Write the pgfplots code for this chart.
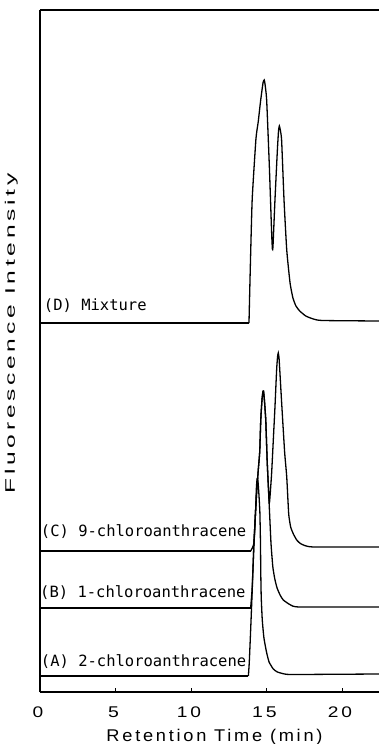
\documentclass[border=0pt]{standalone}
\usepackage{fontspec}
\setmainfont{Liberation Sans}
\newfontfamily\lblfont{DejaVu Sans Mono}
\newfontfamily\axfont[LetterSpace=15]{Liberation Sans}
\usepackage{graphicx}
\usepackage{pgfplots}
\pgfplotsset{compat=1.18}
\newcommand{\tk}[1]{\resizebox{!}{10.7pt}{\scalebox{1.25}[1]{\axfont #1}}}
\pgfplotsset{
  base/.style={black, line width=1.3pt, no marks, sharp plot},
  curve/.style={black, line width=1.3pt, no marks, smooth, tension=0.3},
}
\begin{document}
\begin{tikzpicture}
\begin{axis}[
  name=ax,
  scale only axis, width=339pt, height=682pt,
  xmin=0, xmax=22.45, ymin=0, ymax=682,
  axis x line=box, axis y line=left,
  axis line style={-, line width=1.2pt, black},
  xtick={0,5,10,15,20},
  xticklabels={\tk{0},\tk{5},\tk{10},\tk{15},\tk{20}},
  xtick pos=left, ytick=\empty,
  tick align=inside, major tick length=4pt,
  tick style={line width=1pt, black},
  xticklabel style={anchor=north, inner sep=0pt, yshift=-15pt, xshift=-2pt},
  xlabel={\resizebox{216pt}{12.3pt}{\axfont Retention Time (min)}},
  xlabel style={at={(axis description cs:0.5,0)}, anchor=north, inner sep=0pt, yshift=-37pt, xshift=5pt},
  ylabel={\resizebox{320pt}{10pt}{\axfont Fluorescence Intensity}},
  ylabel style={at={(axis description cs:-0.074,0.5257)}, anchor=base, inner sep=0pt},
]
% (A) 2-chloroanthracene
\addplot[base] coordinates {(0,16) (13.80,16)};
\addplot[curve] coordinates {
(13.80,16) (13.86,30) (13.95,62) (14.05,100) (14.17,149) (14.28,182)
(14.33,204) (14.37,212) (14.40,214) (14.44,210) (14.50,197) (14.56,180)
(14.60,150) (14.62,120) (14.65,95) (14.72,72) (14.83,54) (15.0,40)
(15.17,30) (15.45,23) (15.72,20) (16.2,18) (16.8,17.5) (22.45,18)
};
% (B) 1-chloroanthracene
\addplot[base] coordinates {(0,84) (13.95,84)};
\addplot[curve] coordinates {
(13.95,84) (14.05,104) (14.17,149) (14.28,182) (14.38,207) (14.47,225)
(14.55,240) (14.62,272) (14.70,292) (14.76,300) (14.80,301) (14.85,294)
(14.95,272) (15.05,229) (15.2,180) (15.3,148) (15.42,125) (15.55,113)
(15.7,104) (15.9,97) (16.11,92) (16.6,87) (17.2,85) (22.45,85)
};
% (C) 9-chloroanthracene
\addplot[base] coordinates {(0,141) (13.95,141)};
\addplot[curve] coordinates {
(13.95,141) (14.17,149) (14.28,182) (14.38,207) (14.47,225)
(14.55,240) (14.62,272) (14.70,292) (14.76,300) (14.80,301) (14.85,294)
(14.95,272) (15.05,229) (15.18,190) (15.23,195) (15.34,219) (15.45,252)
(15.56,285) (15.67,322) (15.73,335) (15.78,339) (15.83,334) (15.89,319)
(16.0,290) (16.2,240) (16.34,215) (16.47,178) (16.6,165) (16.78,158)
(17.0,152) (17.2,149) (17.44,147) (18.1,145) (22.45,145)
};
% (D) Mixture
\addplot[base] coordinates {(0,369) (13.84,369)};
\addplot[curve] coordinates {
(13.84,369) (13.92,420) (14.05,492) (14.3,553) (14.45,570) (14.6,590)
(14.72,604) (14.78,610) (14.85,612) (14.9,608) (15.01,592) (15.19,525)
(15.34,459) (15.39,443) (15.43,446) (15.56,492) (15.72,542) (15.8,562)
(15.85,566) (15.9,563) (16.0,552) (16.16,492) (16.34,442) (16.56,409)
(16.75,394) (16.95,386) (17.2,381) (17.6,376) (18.1,373) (18.7,371.5) (22.45,371)
};
\node[anchor=base west, inner sep=0pt, font=\lblfont\fontsize{15.5}{16}\selectfont] at (axis cs:0.25,381) {(D) Mixture};
\node[anchor=base west, inner sep=0pt, font=\lblfont\fontsize{15.5}{16}\selectfont] at (axis cs:0.05,155) {(C) 9-chloroanthracene};
\node[anchor=base west, inner sep=0pt, font=\lblfont\fontsize{15.5}{16}\selectfont] at (axis cs:0.0,95) {(B) 1-chloroanthracene};
\node[anchor=base west, inner sep=0pt, font=\lblfont\fontsize{15.5}{16}\selectfont] at (axis cs:0.05,26) {(A) 2-chloroanthracene};
\end{axis}
\pgfresetboundingbox
\path ([shift={(-40pt,-52pt)}]ax.south west) rectangle ([shift={(0pt,10pt)}]ax.north east);
\end{tikzpicture}
\end{document}
